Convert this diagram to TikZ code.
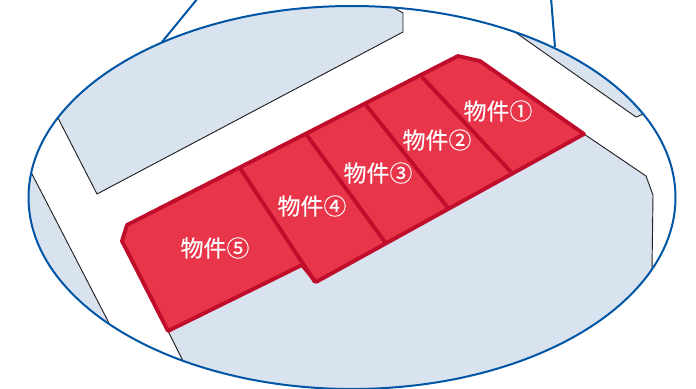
\documentclass[tikz,border=0pt]{standalone}
\usepackage{fontspec}
\setmainfont[FakeBold=0.25]{Noto Sans CJK JP}
\definecolor{landfill}{HTML}{D9E2EF}
\definecolor{lotfill}{HTML}{E93549}
\definecolor{lotline}{HTML}{C00D2B}
\definecolor{ringblue}{HTML}{0055A5}
\definecolor{landline}{HTML}{222222}
\tikzset{
  land/.style={fill=landfill,draw=none},
  landedge/.style={draw=landline,line width=0.7pt,line join=round},
  lot/.style={fill=lotfill,draw=lotline,line width=2.9pt,line join=round},
  divider/.style={draw=lotline,line width=2.9pt},
  ring/.style={draw=ringblue,line width=1.5pt},
  lotlabel/.style={text=white,font=\fontsize{17.2}{17.2}\selectfont,inner sep=0pt}
}
\begin{document}
\begin{tikzpicture}[x=0.75pt,y=-0.75pt]
\useasboundingbox (0,0) rectangle (696,389);
\fill[white] (0,0) rectangle (696,389);
\begin{scope}
  \clip (352,197.5) ellipse [x radius=323.5,y radius=191.5];
  \path[land] (58,118) -- (97,194) -- (403,32) -- (403,13) -- (394,8) -- (394,-5) -- (0,-5) -- (0,100) -- cycle;
  \path[land] (512,30) -- (636,117) -- (641,115) -- (690,80) -- (560,0) -- (500,20) -- cycle;
  \path[land] (32,174) -- (110,325) -- (60,340) -- (10,250) -- (10,170) -- cycle;
  \path[land] (168,331) -- (183,361) -- (200,400) -- (652,400) -- (652,270) -- (653,195) -- (646,176) -- (584,134) -- cycle;
  \draw[landedge] (58,118) -- (97,194) -- (403,32) -- (403,13) -- (394,8) -- (385,0);
  \draw[landedge] (505,25) -- (512,30) -- (636,117) -- (641,115) -- (650,110);
  \draw[landedge] (28,166) -- (32,174) -- (110,325) -- (114,332);
  \draw[landedge] (168,331) -- (183,361) -- (187,368);
  \draw[landedge] (584,134) -- (646,176) -- (653,195) -- (652,270) -- (652,280);
\end{scope}
\draw[ring] (352,197.5) ellipse [x radius=323.5,y radius=191.5];
\coordinate (wedgeLa) at (162,42);
\coordinate (wedgeLb) at (198,-2);
\coordinate (wedgeRa) at (555,47);
\coordinate (wedgeRb) at (551,-2);
\draw[ring] (wedgeLa) -- (wedgeLb);
\draw[ring] (wedgeRa) -- (wedgeRb);
\path[lot] (122,241) -- (127,225) -- (458,56) -- (480,61) -- (584,134) -- (316,282) -- (302,265) -- (168,331) -- cycle;
\draw[divider] (422,77) -- (511,172);
\draw[divider] (366,105) -- (448,208);
\draw[divider] (306,134) -- (385,242);
\draw[divider] (240,168) -- (315,282);
\node[lotlabel] (lot1) at (498,111) {物件①};
\node[lotlabel] (lot2) at (437,140) {物件②};
\node[lotlabel] (lot3) at (378,173) {物件③};
\node[lotlabel] (lot4) at (312,206) {物件④};
\node[lotlabel] (lot5) at (215,248) {物件⑤};
\end{tikzpicture}
\end{document}
